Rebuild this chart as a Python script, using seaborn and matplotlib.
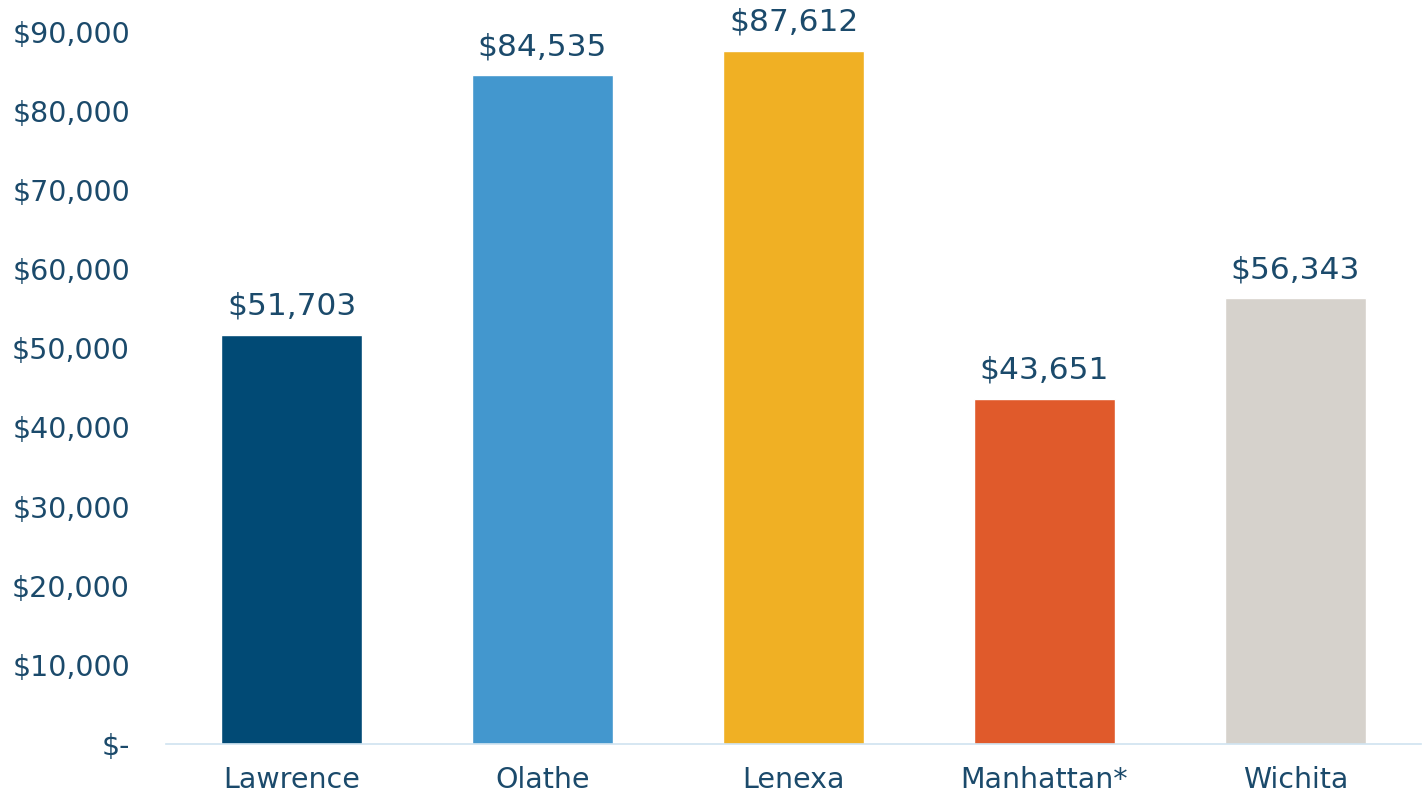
import matplotlib
matplotlib.use("Agg")
import matplotlib.pyplot as plt
import seaborn as sns
import pandas as pd
from matplotlib.ticker import FuncFormatter

cities = ["Lawrence", "Olathe", "Lenexa", "Manhattan*", "Wichita"]
incomes = [51703, 84535, 87612, 43651, 56343]
bar_colors = ["#014A75", "#4397CE", "#F0B024", "#E05A2B", "#D6D2CC"]
y_ticks = [0, 10000, 20000, 30000, 40000, 50000, 60000, 70000, 80000, 90000]

text_color = "#1B4A6B"

sns.set_theme(style="white")
plt.rcParams["font.family"] = ["DejaVu Sans"]

df = pd.DataFrame({"city": cities, "income": incomes})

fig = plt.figure(figsize=(14.24, 7.99), dpi=100)
ax = fig.add_axes([166 / 1424, 55 / 799, 1255 / 1424, 744 / 799])

sns.barplot(data=df, x="city", y="income", hue="city", palette=bar_colors,
            legend=False, width=0.56, saturation=1, ax=ax)

ax.set_xlim(-0.5, 4.5)
ax.set_ylim(0, 94000)
ax.set_yticks(y_ticks)
ax.yaxis.set_major_formatter(FuncFormatter(lambda v, _: "$-" if v == 0 else f"${v:,.0f}"))

# value label above each bar
for patch, val in zip(ax.patches, incomes):
    ax.annotate(f"${val:,}", (patch.get_x() + patch.get_width() / 2, val),
                xytext=(0, 10), textcoords="offset points",
                ha="center", va="bottom", fontsize=22.5, color=text_color)

for side in ["top", "right", "left"]:
    ax.spines[side].set_visible(False)
ax.spines["bottom"].set_color("#CFE3F0")
ax.spines["bottom"].set_linewidth(1.2)

ax.tick_params(axis="y", length=0, pad=26, labelsize=20.5, labelcolor=text_color)
ax.tick_params(axis="x", length=0, pad=16, labelsize=20.5, labelcolor=text_color)
ax.set_xlabel("")
ax.set_ylabel("")

fig.savefig("out.png", dpi=100, facecolor="white")
